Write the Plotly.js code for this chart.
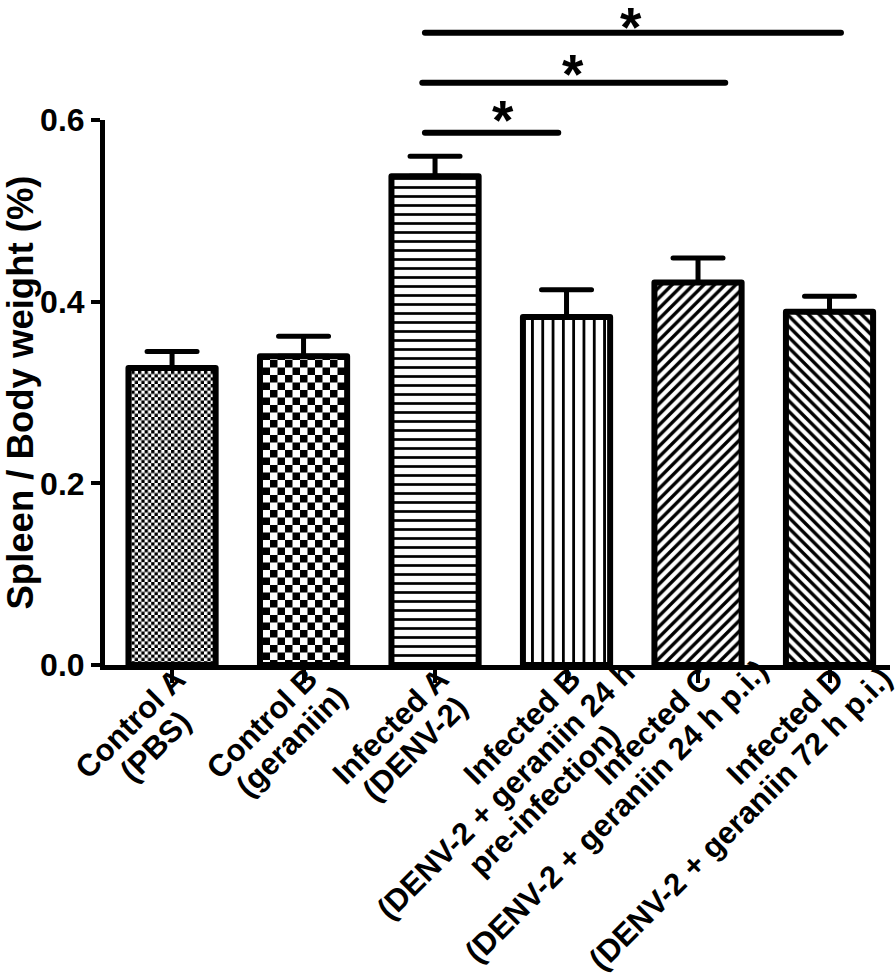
<!DOCTYPE html>
<html><head><meta charset="utf-8">
<script src="https://cdn.plot.ly/plotly-3.0.1.min.js"></script>
<style>html,body{margin:0;padding:0;background:#fff}#chart{width:896px;height:974px}</style>
</head><body><div id="chart"></div>
<script>
// ---------------- data ----------------
const categoryLines = [
  ['Control A', '(PBS)'],
  ['Control B', '(geraniin)'],
  ['Infected A', '(DENV-2)'],
  ['Infected B', '(DENV-2 + geraniin 24 h', 'pre-infection)'],
  ['Infected C', '(DENV-2 + geraniin 24 h p.i.)'],
  ['Infected D', '(DENV-2 + geraniin 72 h p.i.)']
];
const meanValues = [0.327, 0.340, 0.538, 0.383, 0.421, 0.389];
const semValues  = [0.018, 0.022, 0.022, 0.030, 0.027, 0.017];
const yTickValues = [0, 0.2, 0.4, 0.6];
const yTickLabels = ['0.0', '0.2', '0.4', '0.6'];
const yTitle = 'Spleen / Body weight (%)';
// significance brackets (category units / y units)
const sigFrom  = [1.923, 1.903, 1.923];
const sigTo    = [2.937, 4.207, 5.087];
const sigLevel = [0.586, 0.641, 0.696];
const sigStarX = [2.52, 3.05, 3.49];
const sigStarLevel = [0.614, 0.664, 0.716];
const sigMark = ['*', '*', '*'];

// ---------------- styles ----------------
const FONT = 'Liberation Sans';
const LABEL_SIZE = 31;
const LINE_GAP = 34;
const CAP_TO_MID = 0.37 * LABEL_SIZE;
const END_DX = 0, END_DY = 0;
const lineShift = [[0, -27], [0, 8], [0, -7], [0, 43, -13], [0, 45], [0, 35]];
const patShape = ['+', '+', '-', '|', '/', '\\'];
const patSize = [6, 14, 9, 10.3, 7.5, 7.5];
const patSolidity = [0.3, 0.3, 0.3, 0.27, 0.45, 0.45];
const checkerCell = [3.3, 7.5];
const Y_TOP = 0.6, Y2_TOP = 0.7321;

const xIdx = categoryLines.map((_, i) => i);

const ctx = document.createElement('canvas').getContext('2d');
ctx.font = 'bold ' + LABEL_SIZE + 'px "' + FONT + '"';
const r = Math.SQRT1_2;
const labelFont = {family: FONT, size: LABEL_SIZE, color: '#000', weight: 'bold'};
const annotations = [];
categoryLines.forEach((lines, i) => {
  lines.forEach((txt, j) => {
    const L = ctx.measureText(txt).width;
    const a = lineShift[i][j] - L / 2;
    const p = j * LINE_GAP + CAP_TO_MID;
    const cx = END_DX + a * r + p * r;
    const cy = END_DY - a * r + p * r;
    annotations.push({x: xIdx[i], y: 0, xref: 'x', yref: 'y', text: txt, showarrow: false,
      textangle: -45, xanchor: 'center', yanchor: 'middle', xshift: cx, yshift: -cy, font: labelFont});
  });
});
const STAR_SIZE = 55;
sigStarX.forEach((sx, k) => {
  annotations.push({x: sx, y: sigStarLevel[k], xref: 'x', yref: 'y2', text: sigMark[k], showarrow: false,
    xanchor: 'center', yanchor: 'middle', yshift: -0.226 * STAR_SIZE,
    font: {family: FONT, size: STAR_SIZE, color: '#000', weight: 'bold'}});
});

const data = [{
  type: 'bar', x: xIdx, y: meanValues, width: 0.663, xaxis: 'x', yaxis: 'y',
  marker: {color: '#fff', line: {color: '#000', width: 6},
    pattern: {shape: patShape, size: patSize, solidity: patSolidity, fgcolor: '#000', bgcolor: '#fff', fillmode: 'replace'}},
  error_y: {type: 'data', symmetric: false, array: semValues, arrayminus: meanValues.map(() => 0),
    color: '#000', thickness: 5, width: 25},
  hoverinfo: 'skip'
}];
sigFrom.forEach((f, k) => {
  data.push({type: 'scatter', mode: 'lines', x: [f, sigTo[k]], y: [sigLevel[k], sigLevel[k]],
    xaxis: 'x', yaxis: 'y2', line: {color: '#000', width: 6}, hoverinfo: 'skip'});
});

const layout = {
  width: 896, height: 974,
  margin: {l: 105, r: 6, t: 0, b: 309, pad: 0},
  paper_bgcolor: '#fff', plot_bgcolor: 'rgba(0,0,0,0)', showlegend: false,
  xaxis: {range: [-0.51, 5.46], tickvals: xIdx, showticklabels: false, ticks: 'outside', ticklen: 13,
    tickwidth: 4, tickcolor: '#000', showline: true, linewidth: 5, linecolor: '#000',
    showgrid: false, zeroline: false, fixedrange: true, anchor: 'y'},
  yaxis: {domain: [0, Y_TOP / Y2_TOP], range: [0, Y_TOP], tickvals: yTickValues, ticktext: yTickLabels,
    ticks: 'outside', ticklen: 9,
    tickwidth: 4, tickcolor: '#000', showline: true, linewidth: 5, linecolor: '#000',
    showgrid: false, zeroline: false, fixedrange: true, anchor: 'x',
    tickfont: {family: FONT, size: 32, color: '#000', weight: 'bold'},
    title: {text: yTitle, standoff: 6, font: {family: FONT, size: 36.5, color: '#000', weight: 'bold'}}},
  yaxis2: {domain: [0, 1], range: [0, Y2_TOP], anchor: 'x', visible: false, fixedrange: true,
    showgrid: false, zeroline: false},
  annotations: annotations
};

const gd = document.getElementById('chart');
Plotly.newPlot(gd, data, layout, {staticPlot: true, displayModeBar: false}).then(() => {
  const ns = 'http://www.w3.org/2000/svg';
  const svg = gd.querySelector('svg.main-svg');
  const defs = svg.querySelector('defs');
  function makeChecker(id, cell) {
    const p = document.createElementNS(ns, 'pattern');
    p.setAttribute('id', id);
    p.setAttribute('patternUnits', 'userSpaceOnUse');
    p.setAttribute('width', 2 * cell);
    p.setAttribute('height', 2 * cell);
    const bg = document.createElementNS(ns, 'rect');
    bg.setAttribute('width', 2 * cell); bg.setAttribute('height', 2 * cell); bg.setAttribute('fill', '#fff');
    p.appendChild(bg);
    [[0, 0], [cell, cell]].forEach(([x, y]) => {
      const rc = document.createElementNS(ns, 'rect');
      rc.setAttribute('x', x); rc.setAttribute('y', y);
      rc.setAttribute('width', cell); rc.setAttribute('height', cell); rc.setAttribute('fill', '#000');
      p.appendChild(rc);
    });
    defs.appendChild(p);
  }
  makeChecker('checkerA', checkerCell[0]);
  makeChecker('checkerB', checkerCell[1]);
  const paths = gd.querySelectorAll('.barlayer .trace.bars .point path');
  if (paths[0]) paths[0].style.fill = 'url(#checkerA)';
  if (paths[1]) paths[1].style.fill = 'url(#checkerB)';
  paths.forEach(p => { p.style.strokeLinejoin = 'round'; });
  gd.querySelectorAll('.scatterlayer .js-line').forEach(p => { p.style.strokeLinecap = 'round'; });
  gd.querySelectorAll('.errorbar path').forEach(p => { p.style.strokeLinecap = 'round'; p.style.strokeLinejoin = 'round'; });
});
</script>
</body></html>
